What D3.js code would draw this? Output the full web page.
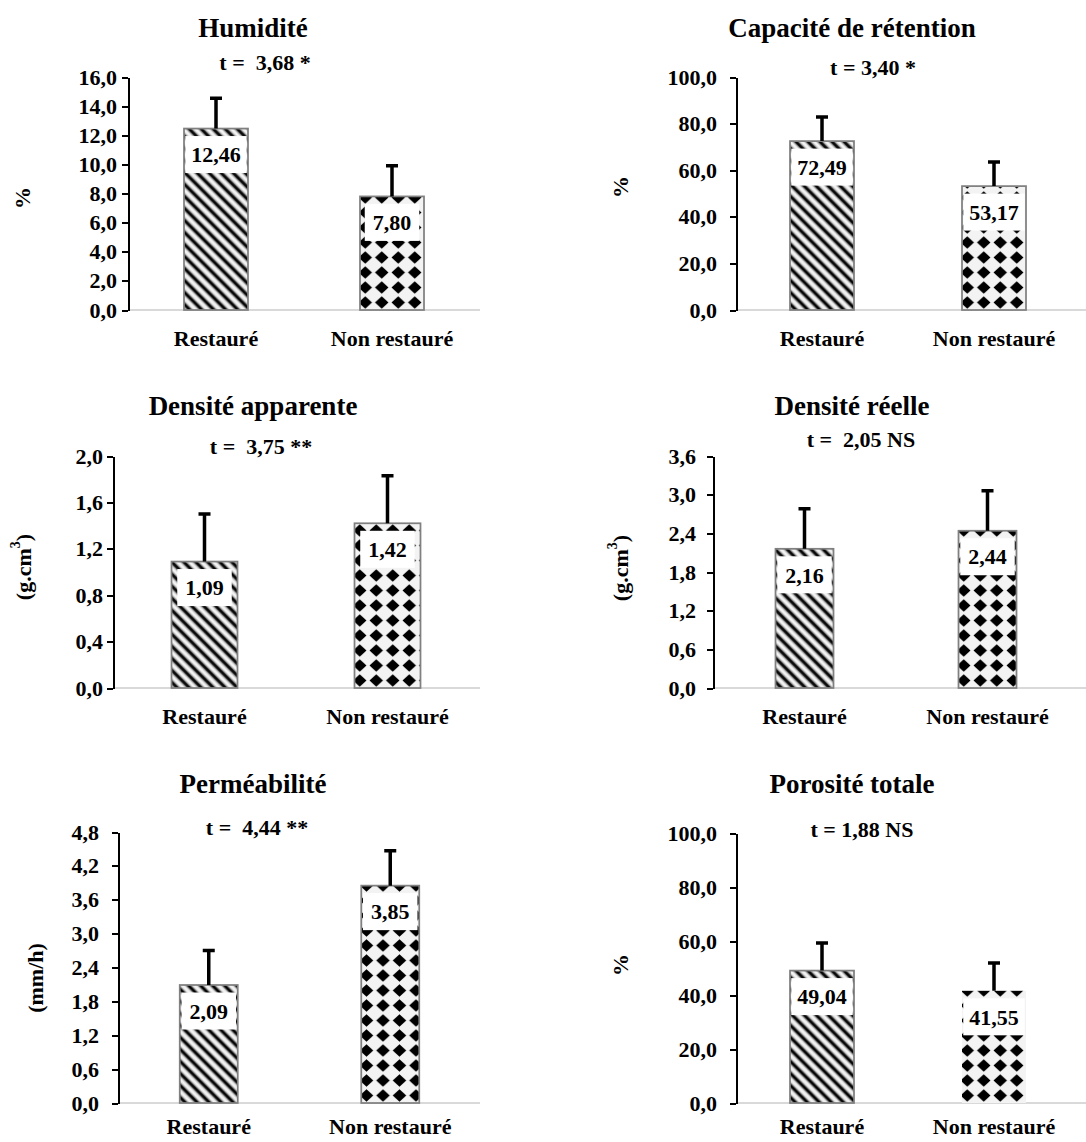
<!DOCTYPE html>
<meta charset="utf-8">
<style>
body { margin: 0; background: #fff; }
svg { display: block; font-family: "Liberation Serif", "Times New Roman", serif; font-weight: bold; }
.axis path, .axis line { stroke: #000; stroke-width: 2px; shape-rendering: crispEdges; }
.axis text { font-size: 22px; fill: #000; }
.title { font-size: 27px; }
.ttest { font-size: 22px; white-space: pre; }
.cat { font-size: 22px; }
.unit { font-size: 22px; }
.vlabel { font-size: 22px; }
.base { stroke: #d9d9d9; stroke-width: 2px; shape-rendering: crispEdges; }
.bar { stroke: #808080; stroke-width: 1.75px; }
.err { stroke: #000; stroke-width: 3.5px; fill: none; }
</style>
<body>
<script src="https://d3js.org/d3.v7.min.js"></script>
<script>

// data
var categories = ["Restauré", "Non restauré"];
var titles = ["Humidité", "Capacité de rétention", "Densité apparente", "Densité réelle", "Perméabilité", "Porosité totale"];
var tLabels = ["t =  3,68 *", "t = 3,40 *", "t =  3,75 **", "t =  2,05 NS", "t =  4,44 **", "t = 1,88 NS"];
var units = ["%", "%", "(g.cm^3)", "(g.cm^3)", "(mm/h)", "%"];
var means = [[12.46, 7.80], [72.49, 53.17], [1.09, 1.42], [2.16, 2.44], [2.09, 3.85], [49.04, 41.55]];
var sds = [[2.08, 2.11], [10.3, 10.3], [0.41, 0.41], [0.62, 0.62], [0.61, 0.62], [10.2, 10.3]];
var yMax = [16, 100, 2, 3.6, 4.8, 100];
var yStep = [2, 20, 0.4, 0.6, 0.6, 20];

// layout of the six panels (pixels)
var panels = [
  {ax: 128, top: 77, bot: 310, right: 480, end: 480, bw: 64, pad: 5, tx: 253, ty: 37, sx: 265, sy: 70, ux: 22, uy: 198},
  {ax: 736, top: 77, bot: 310, right: 1080, end: 1086, bw: 64, pad: 13, tx: 852, ty: 37, sx: 873, sy: 75, ux: 620, uy: 187},
  {ax: 113, top: 456, bot: 688, right: 479, end: 480, bw: 66, pad: 4, tx: 253, ty: 415, sx: 261, sy: 454, ux: 23, uy: 567},
  {ax: 713, top: 456, bot: 688, right: 1079, end: 1086, bw: 58, pad: 11, tx: 852, ty: 415, sx: 861, sy: 447, ux: 620, uy: 568},
  {ax: 118, top: 832, bot: 1103, right: 481, end: 480, bw: 58, pad: 13, tx: 253, ty: 793, sx: 257, sy: 835, ux: 35, uy: 978},
  {ax: 736, top: 833, bot: 1103, right: 1080, end: 1086, bw: 64, pad: 13, tx: 852, ty: 793, sx: 862, sy: 837, ux: 620, uy: 965}
];
var borderless = ["5-1"];

var fr = d3.formatLocale({decimal: ",", thousands: " ", grouping: [3], currency: ["", ""]});
var f1 = fr.format(".1f");
var f2 = fr.format(".2f");

var svg = d3.select("body").append("svg")
    .attr("width", 1086)
    .attr("height", 1142);

//
// patterns
//
var defs = svg.append("defs");

var grad = defs.append("linearGradient").attr("id", "stripeGrad");
[[0, "#fff"], [0.22, "#ccc"], [0.42, "#000"], [0.58, "#000"], [0.78, "#ccc"], [1, "#fff"]].forEach(function(s) {
  grad.append("stop").attr("offset", s[0]).attr("stop-color", s[1]);
});

defs.append("pattern")
    .attr("id", "stripes")
    .attr("patternUnits", "userSpaceOnUse")
    .attr("width", 8.5)
    .attr("height", 10)
    .attr("patternTransform", "rotate(-45)")
  .append("rect")
    .attr("width", 8.5)
    .attr("height", 10)
    .attr("fill", "url(#stripeGrad)");

defs.append("filter").attr("id", "soft")
  .append("feGaussianBlur").attr("stdDeviation", 0.6);

var dots = defs.append("pattern")
    .attr("id", "diamonds")
    .attr("patternUnits", "userSpaceOnUse")
    .attr("x", -3)
    .attr("width", 16.5)
    .attr("height", 15);
dots.append("rect").attr("width", 16.5).attr("height", 15).attr("fill", "#f3f3f3");
dots.append("path")
    .attr("d", "M8.25,1.2L15,7.5L8.25,13.8L1.5,7.5Z")
    .attr("fill", "#000")
    .attr("filter", "url(#soft)");

var fills = ["url(#stripes)", "url(#diamonds)"];

//
// panels
//
panels.forEach(function(p, i) {
  var g = svg.append("g");

  var y = d3.scaleLinear().domain([0, yMax[i]]).range([p.bot, p.top]);
  var step = (p.right - p.ax) / categories.length;
  var padIn = 1 - p.bw / step;
  var x = d3.scaleBand().domain(categories).range([p.ax, p.right])
      .paddingInner(padIn).paddingOuter(padIn / 2);

  var rows = categories.map(function(c, j) { return {cat: c, j: j, v: means[i][j], sd: sds[i][j]}; });

  // baseline
  g.append("line")
      .attr("class", "base")
      .attr("x1", p.ax).attr("x2", p.end)
      .attr("y1", y(0)).attr("y2", y(0));

  // bars
  var bars = g.selectAll(".bargroup").data(rows).enter()
    .append("g")
      .attr("class", "bargroup")
      .attr("transform", function(d) { return "translate(" + x(d.cat) + "," + y(0) + ")"; });

  bars.append("rect")
      .attr("class", "bar")
      .attr("x", 0)
      .attr("y", function(d) { return y(d.v) - y(0); })
      .attr("width", x.bandwidth())
      .attr("height", function(d) { return y(0) - y(d.v); })
      .attr("fill", function(d) { return fills[d.j]; })
      .style("stroke", function(d) { return borderless.indexOf(i + "-" + d.j) >= 0 ? "none" : null; });

  // value labels with white box
  var lab = bars.append("g")
      .attr("transform", function(d) { return "translate(" + (x.bandwidth() / 2) + "," + (y(d.v) - y(0) + 26) + ")"; });
  lab.append("rect").attr("fill", "#fff");
  lab.append("text")
      .attr("class", "vlabel")
      .attr("text-anchor", "middle")
      .attr("dy", "0.35em")
      .text(function(d) { return f2(d.v); });
  lab.each(function() {
    var t = d3.select(this).select("text").node().getComputedTextLength();
    var w = Math.min(x.bandwidth() - 2.5, t + 16);
    d3.select(this).select("rect")
        .attr("x", -w / 2).attr("width", w)
        .attr("y", -18.5).attr("height", 37);
  });

  // error bars
  g.selectAll(".err").data(rows).enter()
    .append("path")
      .attr("class", "err")
      .attr("d", function(d) {
        var cx = x(d.cat) + x.bandwidth() / 2;
        return "M" + cx + "," + y(d.v) + "V" + y(d.v + d.sd) +
               "M" + (cx - 6) + "," + y(d.v + d.sd) + "H" + (cx + 6);
      });

  // y axis
  var axis = d3.axisLeft(y)
      .tickValues(d3.range(0, yMax[i] + yStep[i] / 2, yStep[i]))
      .tickFormat(f1)
      .tickSize(6)
      .tickSizeOuter(0)
      .tickPadding(p.pad);
  g.append("g")
      .attr("class", "axis")
      .attr("transform", "translate(" + p.ax + ",0)")
      .call(axis)
      .attr("font-family", null)
      .attr("font-size", null);

  // category labels
  g.selectAll(".cat").data(categories).enter()
    .append("text")
      .attr("class", "cat")
      .attr("text-anchor", "middle")
      .attr("x", function(c) { return x(c) + x.bandwidth() / 2; })
      .attr("y", Math.min(p.bot + 36, 1134))
      .text(function(c) { return c; });

  // title + t test
  g.append("text")
      .attr("class", "title")
      .attr("text-anchor", "middle")
      .attr("x", p.tx).attr("y", p.ty)
      .text(titles[i]);
  g.append("text")
      .attr("class", "ttest")
      .attr("text-anchor", "middle")
      .attr("x", p.sx).attr("y", p.sy)
      .text(tLabels[i]);

  // unit label
  var u = g.append("text")
      .attr("class", "unit")
      .attr("text-anchor", "middle")
      .attr("dominant-baseline", "central")
      .attr("transform", "translate(" + p.ux + "," + p.uy + ") rotate(-90)");
  var parts = units[i].split("^");
  if (parts.length > 1) {
    var sup = parts[1].match(/^(\d+)(.*)$/);
    u.append("tspan").text(parts[0]);
    u.append("tspan").attr("dy", -8).attr("font-size", 14).text(sup[1]);
    u.append("tspan").attr("dy", 8).text(sup[2]);
  } else {
    u.text(units[i]);
  }
});

</script>
</body>
